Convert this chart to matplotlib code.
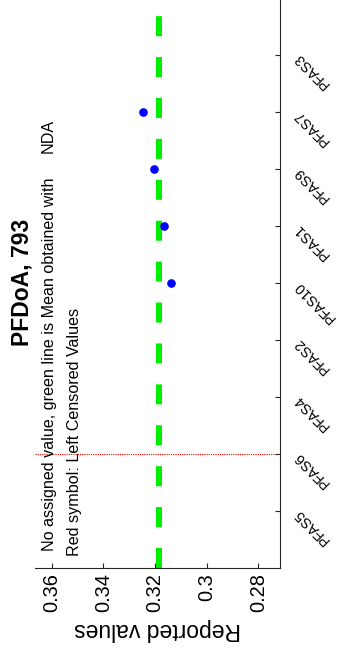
import numpy as np
import matplotlib
matplotlib.use('Agg')
import matplotlib.pyplot as plt

plt.rcParams['font.family'] = ['Liberation Sans', 'DejaVu Sans']

categories = ['PFAS5', 'PFAS6', 'PFAS4', 'PFAS2', 'PFAS10', 'PFAS1', 'PFAS9', 'PFAS7', 'PFAS3']
lab_names = ['PFAS10', 'PFAS1', 'PFAS9', 'PFAS7']
lab_values = [0.3138, 0.3164, 0.3203, 0.3245]
mean_value = 0.3185
marked_lab = 'PFAS6'
value_ticks = [0.28, 0.30, 0.32, 0.34, 0.36]
value_tick_labels = ['0.28', '0.3', '0.32', '0.34', '0.36']
title = 'PFDoA, 793'

pos = {c: i + 1 for i, c in enumerate(categories)}
axis_col = '#262626'

fig = plt.figure(figsize=(3.38, 6.52), dpi=100)
ax = fig.add_axes([0.1036, 0.1296, 0.7249, 0.8737])

# mean line (green dashes), drawn from the bottom so dashes start at the axis
ax.plot([mean_value, mean_value], [0, 10], color='#00ee00', lw=4.3,
        dashes=(3.35, 3.5), solid_capstyle='butt', zorder=2)
# red dotted marker line
ax.plot([0.3665, 0.2716], [pos[marked_lab]] * 2, color='red', lw=0.8,
        linestyle=(0, (1, 1)), zorder=1)
# lab results
ax.plot(lab_values, [pos[n] for n in lab_names], 'o', color='blue',
        markersize=5.2, zorder=3)

ax.set_xlim(0.3665, 0.2716)
ax.set_ylim(0, 10)

for s in ['top', 'left']:
    ax.spines[s].set_visible(False)
for s in ['bottom', 'right']:
    ax.spines[s].set_color(axis_col)
    ax.spines[s].set_linewidth(0.8)

ax.set_xticks(value_ticks)
ax.set_xticklabels(value_tick_labels, rotation=90, fontsize=14.4)
ax.tick_params(axis='x', direction='in', length=3.5, color=axis_col, pad=4)

ax.yaxis.tick_right()
ax.tick_params(axis='y', direction='in', length=3.5, color=axis_col, pad=11.5)
ax.set_yticks(list(pos.values()))
ax.set_yticklabels(categories, fontsize=10.2)
for lbl in ax.get_yticklabels(which='major'):
    lbl.set_rotation(135)
    lbl.set_rotation_mode('anchor')
    lbl.set_ha('right')
    lbl.set_va('center')

ax.set_xlabel('Reported values', fontsize=16.5, rotation=180, va='center')
ax.xaxis.set_label_coords(0.5, -0.1097)

# notes
ax.text(0.3592, 0.29, 'No assigned value, green line is Mean obtained with',
        rotation=90, rotation_mode='anchor', ha='left', va='baseline', fontsize=11.6)
ax.text(0.3595, 7.28, 'NDA', rotation=90, rotation_mode='anchor',
        ha='left', va='baseline', fontsize=11.6)
ax.text(0.3495, 0.2, 'Red symbol: Left Censored Values',
        rotation=90, rotation_mode='anchor', ha='left', va='baseline', fontsize=11.6)

fig.text(22.5 / 338, 0.5664, title, rotation=90, ha='center', va='center',
         fontsize=16.5, fontweight='bold')

fig.savefig('out.png', dpi=100)
